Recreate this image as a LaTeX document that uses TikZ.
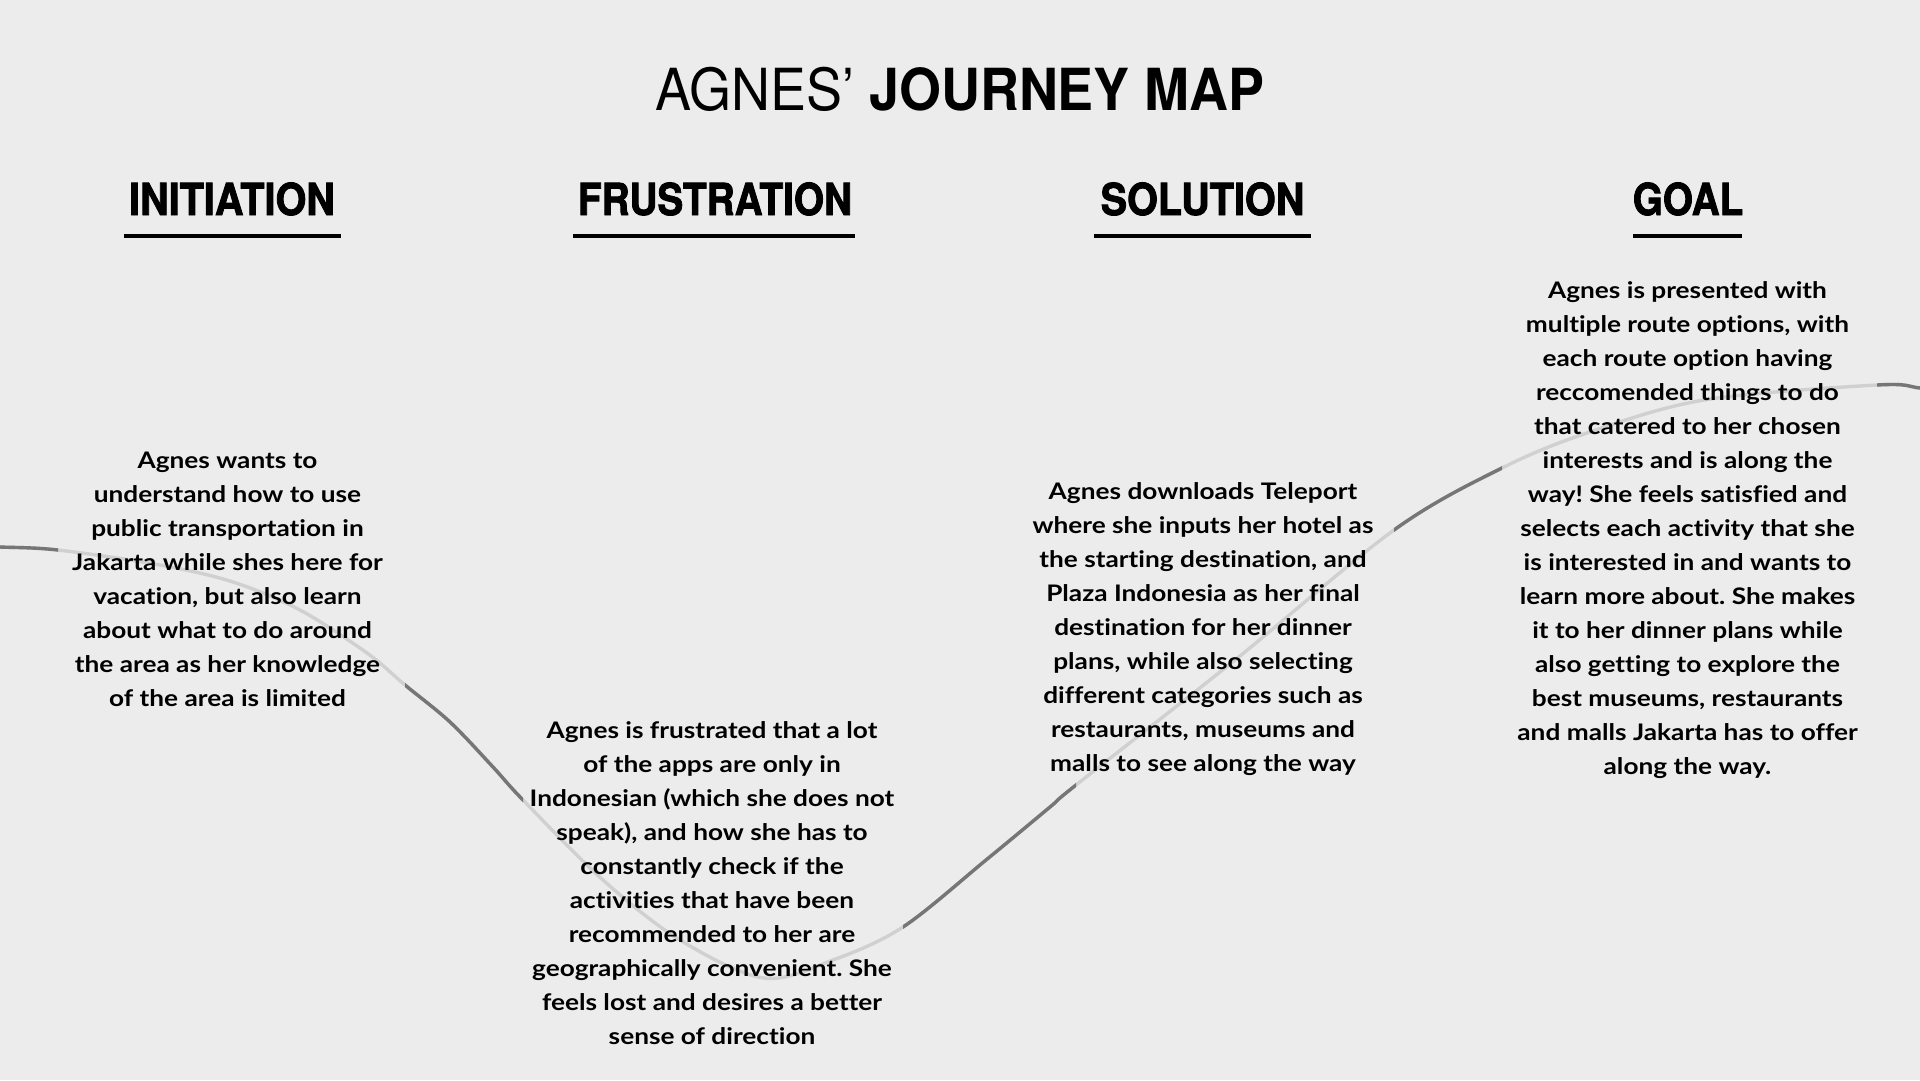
\documentclass[tikz,border=0pt]{standalone}
\usepackage{fontspec}
\setmainfont{Lato}[FakeStretch=1.15, Ligatures={NoCommon}]
\newfontfamily\heros{TeX Gyre Heros}
\newfontfamily\herosheavy{TeX Gyre Heros}[BoldFeatures={FakeBold=2}]
\definecolor{bgc}{RGB}{236,236,236}
\definecolor{darkc}{RGB}{118,118,118}
\definecolor{lightc}{RGB}{208,208,208}
\frenchspacing
\newcommand\journeycurve[1]{\draw[#1] plot[smooth,tension=0.55] coordinates {(-20,546) (0,547) (58,550) (160,565) (233,582) (300,610) (367,653) (405,685) (450,722) (493,767) (523,800) (603,880) (680,940) (764,978) (833,960) (903,927) (986,860) (1050,807) (1076,785) (1235,660) (1394,530) (1502,468) (1587,433) (1704,400) (1877,385) (1920,388) (1960,393)};}
\begin{document}
\begin{tikzpicture}[x=1pt,y=-1pt,
  body/.style={anchor=north, align=center, inner sep=0pt, text=black, font=\frenchspacing\bfseries\fontsize{22.8}{34}\selectfont},
  head/.style={anchor=base, inner sep=0pt, text=black, font=\herosheavy\bfseries\fontsize{44}{44}\selectfont},
  titlestyle/.style={anchor=base, inner sep=0pt, text=black, font=\heros\fontsize{58}{58}\selectfont},
  uline/.style={line width=4pt, black},
  curvelight/.style={draw=lightc, line width=3.4pt},
  curvedark/.style={draw=darkc, line width=3.4pt}]
\fill[bgc] (0,0) rectangle (1920,1080);
\useasboundingbox (0,0) rectangle (1920,1080);
% journey curve
\journeycurve{curvelight}
\foreach \a/\b in {-30/58, 405/523, 903/1076, 1394/1502, 1877/1980} {
  \begin{scope}
    \clip (\a,-10) rectangle (\b,1090);
    \journeycurve{curvedark}
  \end{scope}
}
% title
\node[titlestyle] (title) at (960,110) {\scalebox{0.93}[1]{AGNES’ \textbf{JOURNEY MAP}}};
% headers
\node[head] (h1) at (232,215) {\scalebox{0.9}[1]{INITIATION}};
\node[head] (h2) at (715,215) {\scalebox{0.88}[1]{FRUSTRATION}};
\node[head] (h3) at (1202.5,215) {\scalebox{0.9}[1]{SOLUTION}};
\node[head] (h4) at (1688,215) {\scalebox{0.88}[1]{GOAL}};
\draw[uline] (124,236) -- (341,236);
\draw[uline] (573,236) -- (855,236);
\draw[uline] (1094,236) -- (1311,236);
\draw[uline] (1633,236) -- (1742,236);
% texts
\node[body] (t1) at (227.5,448.5) {\rule{0pt}{20pt}Agnes wants to\\
understand how to use\\
public transportation in\\
Jakarta while shes here for\\
vacation, but also learn\\
about what to do around\\
the area as her knowledge\\
of the area is limited};
\node[body] (t2) at (712,718) {\rule{0pt}{20pt}Agnes is frustrated that a lot\\
of the apps are only in\\
Indonesian (which she does not\\
speak), and how she has to\\
constantly check if the\\
activities that have been\\
recommended to her are\\
geographically convenient. She\\
feels lost and desires a better\\
sense of direction};
\node[body] (t3) at (1203,479.3) {\rule{0pt}{20pt}Agnes downloads Teleport\\
where she inputs her hotel as\\
the starting destination, and\\
Plaza Indonesia as her final\\
destination for her dinner\\
plans, while also selecting\\
different categories such as\\
restaurants, museums and\\
malls to see along the way};
\node[body] (t4) at (1687.5,278.5) {\rule{0pt}{20pt}Agnes is presented with\\
multiple route options, with\\
each route option having\\
reccomended things to do\\
that catered to her chosen\\
interests and is along the\\
way! She feels satisfied and\\
selects each activity that she\\
is interested in and wants to\\
learn more about. She makes\\
it to her dinner plans while\\
also getting to explore the\\
best museums, restaurants\\
and malls Jakarta has to offer\\
along the way.};
\end{tikzpicture}
\end{document}
